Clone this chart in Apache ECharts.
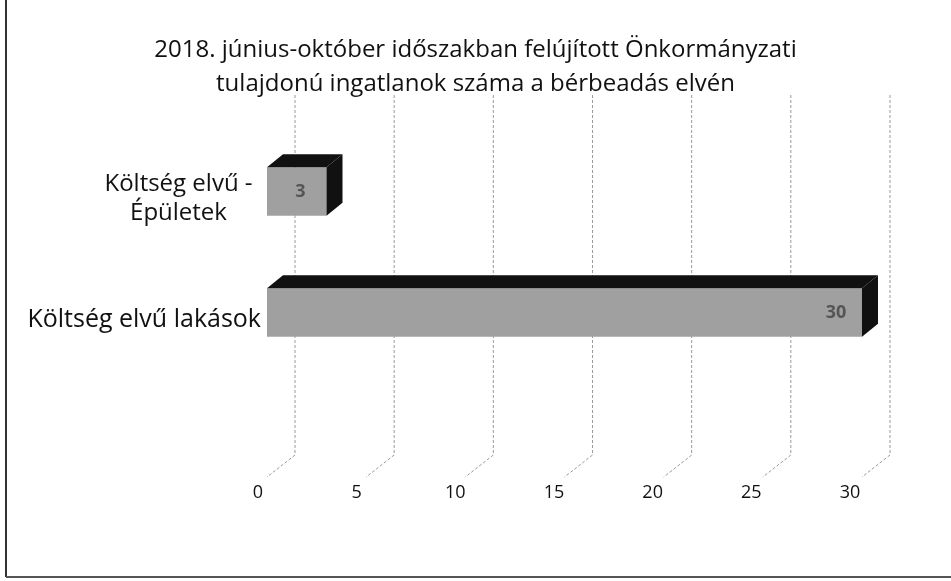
<!DOCTYPE html>
<html>
<head>
<meta charset="utf-8">
<title>Önkormányzati ingatlanok</title>
<script src="https://cdn.jsdelivr.net/npm/echarts@6/dist/echarts.min.js"></script>
<style>
    html, body { margin: 0; padding: 0; background: #fff; }
    .echarts_1 { width: 951px; height: 581px; }
</style>
</head>
<body>
<div class="echarts_1"></div>
<script>
// 数据
var categories = ['Költség elvű -\nÉpületek', 'Költség elvű lakások'];
var values = [3, 30];
var ticks = [0, 5, 10, 15, 20, 25, 30];
var titleText = '2018. június-október időszakban felújított Önkormányzati\ntulajdonú ingatlanok száma a bérbeadás elvén';

var font = '"Open Sans", "Noto Sans", sans-serif';

// 3D 效果的深度
var depthX = 16, depthY = -13;

var echarts_1 = echarts.init(document.querySelector('.echarts_1'));

var option1 = {
    backgroundColor: '#fff',
    animation: false,
    title: {
        text: titleText,
        left: 'center',
        top: 28,
        textStyle: {
            fontFamily: font,
            fontSize: 24,
            fontWeight: 'normal',
            color: '#111',
            lineHeight: 34
        }
    },
    // 边框线
    graphic: [
        { type: 'line', shape: { x1: 6, y1: 0, x2: 6, y2: 577 }, style: { stroke: '#333', lineWidth: 2 } },
        { type: 'line', shape: { x1: 6, y1: 577, x2: 951, y2: 577 }, style: { stroke: '#555', lineWidth: 2 } }
    ],
    grid: [
        // 0 - 柱子
        { left: 267, right: 89, top: 131, bottom: 208 },
        // 1 - 背景网格线
        { left: 295, right: 61, top: 95, bottom: 126 },
        // 2 - 底部刻度
        { left: 258, right: 101, top: 470, height: 6 }
    ],
    xAxis: [
        { gridIndex: 0, type: 'value', min: 0, max: 30, show: false },
        { gridIndex: 1, type: 'value', min: 0, max: 30, show: false },
        {
            gridIndex: 2, type: 'value', min: 0, max: 30, interval: 5,
            axisLine: { show: false }, axisTick: { show: false }, splitLine: { show: false },
            axisLabel: { margin: 8, fontFamily: font, fontSize: 18, color: '#111' }
        }
    ],
    yAxis: [
        {
            gridIndex: 0, type: 'category', data: categories, inverse: true,
            axisLine: { show: false }, axisTick: { show: false },
            axisLabel: {
                margin: 6,
                fontFamily: font,
                fontSize: 25,
                color: '#111',
                lineHeight: 29,
                padding: [14, 0, 0, 0],
                formatter: function (v) {
                    if (v.indexOf('\n') < 0) return v;
                    return v.split('\n').map(function (s) { return '{c|' + s + '}'; }).join('\n');
                },
                rich: { c: { width: 165, align: 'center', fontFamily: font, fontSize: 24, color: '#111', lineHeight: 29 } }
            }
        },
        { gridIndex: 1, type: 'value', min: 0, max: 1, show: false },
        { gridIndex: 2, type: 'value', min: 0, max: 1, show: false }
    ],
    series: [
        {
            // 网格线 (竖线 + 底部斜线)
            type: 'custom',
            xAxisIndex: 1,
            yAxisIndex: 1,
            z: 1,
            silent: true,
            data: ticks.map(function (t) { return [t]; }),
            renderItem: function (params, api) {
                var top = api.coord([api.value(0), 1]);
                var bottom = api.coord([api.value(0), 0]);
                return {
                    type: 'polyline',
                    shape: { points: [top, bottom, [bottom[0] - 28, bottom[1] + 22]] },
                    style: { stroke: '#9a9a9a', lineWidth: 1, lineDash: [3, 2], fill: null }
                };
            }
        },
        {
            // 3D 柱子
            type: 'custom',
            xAxisIndex: 0,
            yAxisIndex: 0,
            z: 2,
            data: values.map(function (v, i) { return [v, i]; }),
            encode: { x: 0, y: 1 },
            renderItem: function (params, api) {
                var start = api.coord([0, api.value(1)]);
                var end = api.coord([api.value(0), api.value(1)]);
                var h = api.size([0, 1])[1] * 0.4;
                var x0 = start[0], x1 = end[0];
                var y0 = start[1] - h / 2, y1 = y0 + h;
                return {
                    type: 'group',
                    children: [
                        {
                            type: 'rect',
                            shape: { x: x0, y: y0, width: x1 - x0, height: h },
                            style: { fill: '#a0a0a0' }
                        },
                        {
                            type: 'polygon',
                            shape: { points: [[x0, y0], [x1, y0], [x1 + depthX, y0 + depthY], [x0 + depthX, y0 + depthY]] },
                            style: { fill: '#111' }
                        },
                        {
                            type: 'polygon',
                            shape: { points: [[x1, y0], [x1 + depthX, y0 + depthY], [x1 + depthX, y1 + depthY], [x1, y1]] },
                            style: { fill: '#111' }
                        },
                        {
                            type: 'text',
                            style: {
                                text: String(api.value(0)),
                                x: x1 - 26, y: (y0 + y1) / 2,
                                align: 'center', verticalAlign: 'middle',
                                fontFamily: font, fontSize: 18, fontWeight: 'bold',
                                fill: '#555'
                            }
                        }
                    ]
                };
            }
        }
    ]
};

echarts_1.setOption(option1);
</script>
</body>
</html>
